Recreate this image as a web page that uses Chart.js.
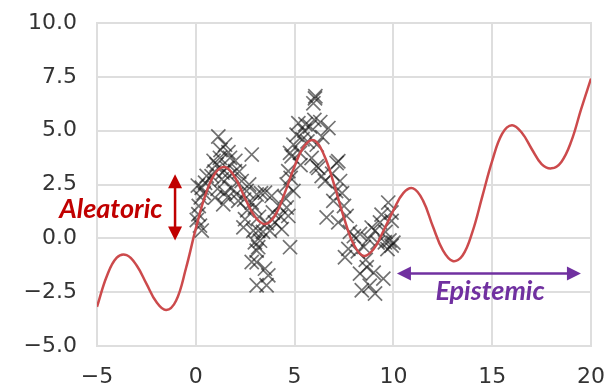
<!DOCTYPE html>
<html>
<head>
<meta charset="utf-8">
<script src="https://cdn.jsdelivr.net/npm/chart.js@4"></script>
<style>
html,body{margin:0;padding:0;background:#fff}
#wrap{width:613px;height:389px}
</style>
</head>
<body>
<div id="wrap"><canvas id="grafico" width="613" height="389"></canvas></div>
<script>

/* DADOS */

// curva vermelha (x, y)
const curveX=[-5,-4.5,-4,-3.5,-3,-2.5,-2,-1.5,-1,-0.5,0,0.5,1,1.5,2,2.5,3,3.5,4,4.5,5,5.5,6,6.5,7,7.5,8,8.5,9,9.5,10,10.5,11,11.5,12,12.5,13,13.5,14,14.5,15,15.5,16,16.5,17,17.5,18,18.5,19,19.5,20]
const curveY=[-3.18,-1.75,-0.9,-0.78,-1.25,-2.1,-2.95,-3.33,-2.9,-1.4,0.45,2.05,3.05,3.3,2.8,1.85,1.0,0.66,1.05,2.1,3.35,4.3,4.55,3.85,2.5,0.95,-0.3,-0.82,-0.5,0.35,1.3,2.1,2.32,1.75,0.55,-0.55,-1.05,-0.8,0.3,1.95,3.6,4.85,5.25,4.9,4.15,3.45,3.25,3.55,4.5,6.0,7.42]

// observações (x)
const obsX=[
0.13,0.21,0.30,0.3,0.47,0.1,0.25,0.15,0.4,0.05,0.55,
1.14,1.48,1.22,1.73,1.05,1.56,1.98,0.80,1.31,1.81,1.48,0.97,2.15,1.39,2.32,0.9,1.25,1.65,2.0,1.1,1.7,2.2,1.35,0.95,1.6,2.05,
2.83,2.57,2.83,2.99,2.49,2.41,2.91,2.99,3.08,2.83,3.08,3.08,3.16,3.25,3.16,3.08,2.6,2.7,3.2,2.45,3.3,
3.5,3.84,3.5,3.67,3.58,4.0,4.35,4.6,4.68,4.77,4.94,4.6,4.68,4.85,3.6,3.9,4.2,3.4,4.5,3.75,4.3,4.8,
6.03,5.95,6.05,5.19,5.78,6.71,5.1,4.94,6.12,4.77,5.27,5.86,5.5,5.4,6.3,6.0,5.65,6.2,6.54,5.3,6.4,5.55,6.12,6.37,6.62,
7.13,7.3,6.96,7.63,7.21,7.72,7.55,7.21,6.9,7.4,7.1,7.8,7.5,8.0,
8.31,8.73,9.07,9.32,9.91,9.74,9.57,9.91,8.65,8.31,9.49,8.4,9.07,8.5,8.9,9.2,9.6,9.8,9.9,8.6,9.0,8.8,9.4,8.2,9.7,10.0
]
// observações (y)
const obsY=[
1.12,0.59,0.36,2.35,2.58,2.45,1.9,1.5,2.1,0.85,2.9,
4.73,4.35,3.74,3.74,3.43,3.27,3.12,2.89,2.74,2.35,2.12,1.89,1.74,1.58,2.66,3.6,4.1,4.0,3.6,2.3,2.9,3.1,3.05,3.1,1.9,2.05,
3.89,2.2,1.66,1.43,0.89,0.51,0.35,-0.18,-0.57,-1.1,-2.18,2.04,0.35,-0.11,-0.41,-1.11,1.3,2.5,1.0,1.8,2.1,
2.12,1.97,-1.41,-1.72,-2.18,0.74,0.43,1.43,1.04,-0.41,2.2,2.5,3.12,3.81,0.7,1.2,1.5,0.3,1.9,0.35,1.0,2.8,
6.5,6.27,6.6,5.35,5.19,5.12,4.81,4.35,4.35,3.97,3.97,3.73,5.0,4.6,5.4,5.5,4.5,3.27,2.66,3.4,4.7,5.3,3.35,2.89,0.97,
3.5,2.66,1.74,1.04,0.74,-0.49,-0.88,3.58,3.0,2.1,2.2,0.3,1.5,0.1,
0.2,-0.03,0.35,0.74,0.81,1.66,-0.18,-0.34,-1.34,-1.64,-1.87,-2.41,-2.56,-0.4,0.5,-0.2,0.3,-0.1,1.2,-1.0,-1.6,-2.2,1.1,-0.6,-0.5,-0.2
]

// eixos
const xTicks=[-5,0,5,10,15,20]
const xTickLabels=["−5","0","5","10","15","20"]
const yTicks=[-5,-2.5,0,2.5,5,7.5,10]
const yTickLabels=["−5.0","−2.5","0.0","2.5","5.0","7.5","10.0"]

// anotações
const notas=[
{texto:"Aleatoric",cor:"#c00000",tx:-4.3,ty:1.37,seta:[-1.05,2.98,-1.05,-0.1]},
{texto:"Epistemic",cor:"#7030a0",tx:14.89,ty:-2.45,seta:[10.18,-1.63,19.49,-1.63]}
]

/* MONTAR DATASETS */

const linha=curveX.map((x,i)=>({x:x,y:curveY[i]}))
const pontos=obsX.map((x,i)=>({x:x,y:obsY[i]}))

const grade="#dedede"

function seta(ctx,x1,y1,x2,y2,cor){
const ang=Math.atan2(y2-y1,x2-x1)
const L=14,W=7
ctx.save()
ctx.strokeStyle=cor
ctx.fillStyle=cor
ctx.lineWidth=2.5
ctx.beginPath()
ctx.moveTo(x1+Math.cos(ang)*L*0.8,y1+Math.sin(ang)*L*0.8)
ctx.lineTo(x2-Math.cos(ang)*L*0.8,y2-Math.sin(ang)*L*0.8)
ctx.stroke()
const cabeca=(px,py,a)=>{
ctx.beginPath()
ctx.moveTo(px,py)
ctx.lineTo(px-Math.cos(a)*L-Math.sin(a)*W,py-Math.sin(a)*L+Math.cos(a)*W)
ctx.lineTo(px-Math.cos(a)*L+Math.sin(a)*W,py-Math.sin(a)*L-Math.cos(a)*W)
ctx.closePath()
ctx.fill()
}
cabeca(x2,y2,ang)
cabeca(x1,y1,ang+Math.PI)
ctx.restore()
}

const anotacoes={
id:"anotacoes",
afterDatasetsDraw(chart){
const ctx=chart.ctx
const sx=chart.scales.x,sy=chart.scales.y
notas.forEach(n=>{
const s=n.seta
seta(ctx,sx.getPixelForValue(s[0]),sy.getPixelForValue(s[1]),sx.getPixelForValue(s[2]),sy.getPixelForValue(s[3]),n.cor)
ctx.save()
ctx.font="italic bold 27px Lato"
ctx.fillStyle=n.cor
ctx.textAlign="center"
ctx.textBaseline="middle"
ctx.fillText(n.texto,sx.getPixelForValue(n.tx),sy.getPixelForValue(n.ty))
ctx.restore()
})
}
}

/* GRÁFICO */

new Chart(document.getElementById("grafico"),{
type:"scatter",
data:{
datasets:[
{
type:"line",
data:linha,
borderColor:"#cc4a4c",
borderWidth:2.5,
pointRadius:0,
tension:0.4,
fill:false,
order:1
},
{
data:pontos,
pointStyle:"crossRot",
pointRadius:10,
borderColor:"rgba(20,20,20,0.6)",
borderWidth:1.7,
backgroundColor:"transparent",
order:2
}
]
},
options:{
responsive:false,
animation:false,
devicePixelRatio:1,
layout:{autoPadding:false,padding:{top:23,right:22,bottom:0,left:0}},
plugins:{legend:{display:false},tooltip:{enabled:false}},
scales:{
x:{
type:"linear",
min:-5,max:20,
afterBuildTicks:s=>{s.ticks=xTicks.map(v=>({value:v}))},
afterFit:s=>{s.height=43;s.paddingLeft=0;s.paddingRight=0},
ticks:{
padding:18,
color:"#333",
font:{family:"DejaVu Sans",size:22},
callback:(v)=>xTickLabels[xTicks.indexOf(v)]
},
grid:{color:grade,lineWidth:2,drawTicks:false},
border:{color:grade,width:2}
},
y:{
min:-5,max:10,
afterBuildTicks:s=>{s.ticks=yTicks.map(v=>({value:v}))},
afterFit:s=>{s.width=97;s.paddingTop=0;s.paddingBottom=0},
ticks:{
padding:20,
color:"#333",
font:{family:"DejaVu Sans",size:22},
callback:(v)=>yTickLabels[yTicks.indexOf(v)]
},
grid:{color:grade,lineWidth:2,drawTicks:false},
border:{color:grade,width:2}
}
}
},
plugins:[anotacoes,{
id:"bordaDireita",
beforeDatasetsDraw(chart){
const a=chart.chartArea,ctx=chart.ctx
ctx.save()
ctx.strokeStyle=grade
ctx.lineWidth=2
ctx.strokeRect(a.left,a.top,a.right-a.left,a.bottom-a.top)
ctx.restore()
}
}]
})

</script>
</body>
</html>
